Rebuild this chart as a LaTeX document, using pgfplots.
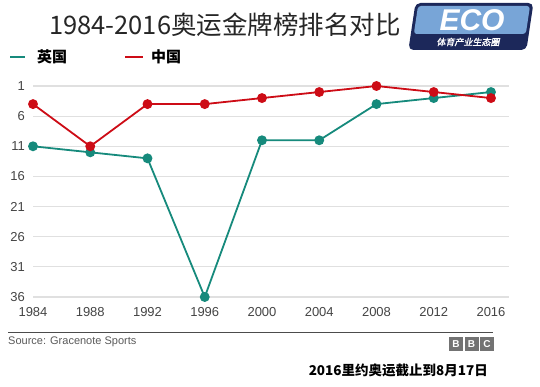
\documentclass[border=0pt]{standalone}
\usepackage{pgfplots}
\pgfplotsset{compat=1.18}
\usepackage{fontspec}
\setmainfont{Liberation Sans}
\newfontfamily\cjk{Noto Sans CJK SC}
\newfontfamily\cjki[FakeSlant=0.2,FakeBold=1.5]{Noto Sans CJK SC}
\definecolor{ukteal}{RGB}{22,138,124}
\definecolor{cnred}{RGB}{205,12,22}
\definecolor{ticktext}{RGB}{68,68,68}
\definecolor{gridc}{RGB}{224,224,224}
\definecolor{navy}{RGB}{28,40,90}
\definecolor{logoblue}{RGB}{120,165,215}
\begin{document}
\begin{tikzpicture}[x=1pt,y=1pt]
\useasboundingbox (0,0) rectangle (540,386);
\begin{axis}[
  at={(33pt,89pt)}, anchor=south west,
  scale only axis, width=476pt, height=211pt,
  xmin=1984, xmax=2017.26, ymin=1, ymax=36,
  y dir=reverse,
  clip=false,
  axis line style={draw=none},
  tick style={draw=none},
  xtick={1984,1988,...,2016},
  ytick={1,6,11,16,21,26,31,36},
  ymajorgrids,
  grid style={gridc, line width=1.2pt},
  /pgf/number format/assume math mode=true,
  /pgf/number format/set thousands separator={},
  ticklabel style={font=\fontsize{13}{15}\selectfont, text=ticktext, inner sep=0pt},
  yticklabel style={anchor=east, xshift=-8pt},
  xticklabel style={anchor=north, yshift=-10pt},
]
\addplot[ukteal, line width=1.8pt, mark=*, mark size=4pt, mark options={fill=ukteal}] coordinates {
 (1984,11) (1988,12) (1992,13) (1996,36) (2000,10) (2004,10) (2008,4) (2012,3) (2016,2)};
\addplot[cnred, line width=1.8pt, mark=*, mark size=4pt, mark options={fill=cnred}] coordinates {
 (1984,4) (1988,11) (1992,4) (1996,4) (2000,3) (2004,2) (2008,1) (2012,2) (2016,3)};
\end{axis}
% title
\node[text=black!85, inner sep=0pt] at (225,361) {\cjk\fontsize{25.5}{28}\selectfont 1984-2016奥运金牌榜排名对比};
% legend
\draw[ukteal, line width=2.5pt] (10,329) -- (25,329);
\node[anchor=west, inner sep=0pt] at (37,329) {\cjk\bfseries\fontsize{15}{17}\selectfont 英国};
\draw[cnred, line width=2.5pt] (125,329) -- (143,329);
\node[anchor=west, inner sep=0pt] at (151,329) {\cjk\bfseries\fontsize{15}{17}\selectfont 中国};
% logo
\begin{scope}[xslant=0.15]
\fill[navy, rounded corners=5pt] (358,336) rectangle (476,383);
\fill[logoblue, rounded corners=3pt] (361,352) rectangle (473,380);
\end{scope}
\node[inner sep=0pt, text=white] at (472,366) {\fontsize{30}{30}\selectfont\bfseries\itshape ECO};
\node[inner sep=0pt, text=white] at (468,344) {\cjki\fontsize{9}{10}\selectfont 体育产业生态圈};
% footer
\draw[black!70, line width=0.9pt] (8,54) -- (493,54);
\node[anchor=west, inner sep=0pt, text=black!65] at (8,44) {\fontsize{11}{13}\selectfont Source: Gracenote Sports};
\foreach \xx/\l in {449/B,464.5/B,480/C} {
  \fill[black!55] (\xx,35) rectangle ++(14,14);
  \node[text=white, inner sep=0pt] at (\xx+7,42) {\fontsize{10}{11}\selectfont\bfseries \l};
}
\node[anchor=east, inner sep=0pt] at (488,16) {\cjk\bfseries\fontsize{13.5}{15}\selectfont 2016里约奥运截止到8月17日};
\end{tikzpicture}
\end{document}
